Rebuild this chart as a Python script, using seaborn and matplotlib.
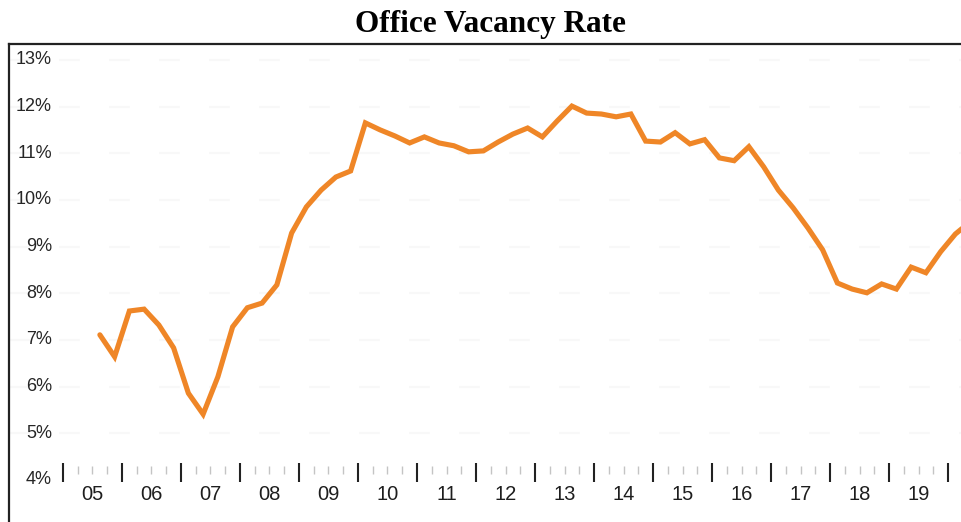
import numpy as np
import pandas as pd
import matplotlib
matplotlib.use('Agg')
import matplotlib.pyplot as plt
import seaborn as sns

# quarterly office vacancy rate, %
quarters = ['2005Q3', '2005Q4',
            '2006Q1', '2006Q2', '2006Q3', '2006Q4',
            '2007Q1', '2007Q2', '2007Q3', '2007Q4',
            '2008Q1', '2008Q2', '2008Q3', '2008Q4',
            '2009Q1', '2009Q2', '2009Q3', '2009Q4',
            '2010Q1', '2010Q2', '2010Q3', '2010Q4',
            '2011Q1', '2011Q2', '2011Q3', '2011Q4',
            '2012Q1', '2012Q2', '2012Q3', '2012Q4',
            '2013Q1', '2013Q2', '2013Q3', '2013Q4',
            '2014Q1', '2014Q2', '2014Q3', '2014Q4',
            '2015Q1', '2015Q2', '2015Q3', '2015Q4',
            '2016Q1', '2016Q2', '2016Q3', '2016Q4',
            '2017Q1', '2017Q2', '2017Q3', '2017Q4',
            '2018Q1', '2018Q2', '2018Q3', '2018Q4',
            '2019Q1', '2019Q2', '2019Q3', '2019Q4',
            '2020Q1', '2020Q2']
vacancy = [7.11, 6.64,
           7.62, 7.66, 7.32, 6.83,
           5.86, 5.41, 6.21, 7.28,
           7.69, 7.79, 8.18, 9.29,
           9.85, 10.21, 10.49, 10.62,
           11.65, 11.50, 11.37, 11.22,
           11.35, 11.22, 11.16, 11.03,
           11.05, 11.24, 11.41, 11.54,
           11.35, 11.69, 12.01, 11.86,
           11.84, 11.78, 11.84, 11.26,
           11.24, 11.44, 11.20, 11.29,
           10.90, 10.84, 11.14, 10.71,
           10.21, 9.83, 9.40, 8.93,
           8.22, 8.09, 8.01, 8.20,
           8.09, 8.56, 8.44, 8.89,
           9.27, 9.53]

years = list(range(2005, 2020))
year_labels = ['05', '06', '07', '08', '09', '10', '11', '12', '13', '14',
               '15', '16', '17', '18', '19']
y_ticks = [4, 5, 6, 7, 8, 9, 10, 11, 12, 13]
y_labels = [f'{v}%' for v in y_ticks]

# quarter -> position in the middle of the quarter
df = pd.DataFrame({'quarter': quarters, 'vacancy': vacancy})
df['t'] = df['quarter'].str[:4].astype(int) + (df['quarter'].str[-1].astype(int) - 0.5) / 4

sns.set_style('white')
plt.rcParams['font.family'] = ['Liberation Sans Narrow', 'Liberation Sans', 'DejaVu Sans']

fig = plt.figure(figsize=(9.61, 5.22), dpi=100)
ax = fig.add_axes([9 / 961, 0, 952 / 961, 478 / 522])

sns.lineplot(data=df, x='t', y='vacancy', ax=ax, color='#ef8627', linewidth=3.7,
             solid_joinstyle='miter', zorder=3)

ax.set_xlim(2004.085, 2020.22)
ax.set_ylim(3.10, 13.34)
ax.set_xticks([])
ax.set_yticks([])
ax.set_xlabel('')
ax.set_ylabel('')

for s in ['right', 'bottom']:
    ax.spines[s].set_visible(False)
for s in ['left', 'top']:
    ax.spines[s].set_visible(True)
    ax.spines[s].set_color('#222222')
    ax.spines[s].set_linewidth(1.6)

# very faint gridlines (barely visible in the scan)
for v in y_ticks[1:]:
    ax.axhline(v, color='#f8f8f8', linewidth=1.5, linestyle=(0, (10, 14)), zorder=1)

# y labels inside the frame
for v, lab in zip(y_ticks, y_labels):
    ax.text(0.045, v, lab, transform=ax.get_yaxis_transform(), ha='right', va='center',
            fontsize=13, color='#262626')

# year axis drawn inside the frame
ax.vlines(range(2005, 2021), 3.96, 4.36, color='#222222', linewidth=1.5, zorder=2)
minor = [y + q / 4 for y in range(2005, 2020) for q in (1, 2, 3)]
ax.vlines(minor, 4.13, 4.30, color='#c4c4c4', linewidth=1.0, zorder=2)
for yr, lab in zip(years, year_labels):
    ax.text(yr + 0.5, 3.68, lab, ha='center', va='center', fontsize=14.5, color='#1e1e1e')

fig.text(0.51, 0.953, 'Office Vacancy Rate', ha='center', va='center', color='black',
         fontsize=22.5, fontweight='bold', family=['Liberation Serif', 'DejaVu Serif'])

fig.savefig('out.png', dpi=100)
